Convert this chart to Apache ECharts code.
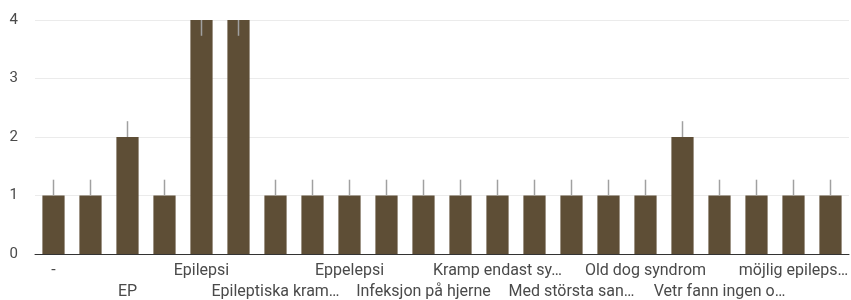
<!DOCTYPE html>
<html>
<head>
<meta charset="utf-8">
<script src="https://cdn.jsdelivr.net/npm/echarts@6/dist/echarts.min.js"></script>
<style>
  html, body { margin: 0; padding: 0; background: #fff; }
  #chart { width: 851px; height: 300px; }
</style>
</head>
<body>
<div id="chart"></div>
<script>
// categories (every other one is shown on the axis, as in the source)
var categories = [
  '-', 'Diagnos saknas', 'EP', 'Epilepsi', 'Epilepsi', 'Epilepsi (idiopatisk)',
  'Epileptiska kram…', 'Epileptiske anfall', 'Eppelepsi', 'Hjernesvulst',
  'Infeksjon på hjerne', 'Kramp', 'Kramp endast sy…', 'Krampanfall',
  'Med största san…', 'Oklart', 'Old dog syndrom', 'Vet ej',
  'Vetr fann ingen o…', 'Vestibulärt syndrom', 'möjlig epileps…', 'okänd'
];
var values  = [1, 1, 2, 1, 4, 4, 1, 1, 1, 1, 1, 1, 1, 1, 1, 1, 1, 2, 1, 1, 1, 1];
var errLow  = [1, 1, 2, 1, 3.73, 3.73, 1, 1, 1, 1, 1, 1, 1, 1, 1, 1, 1, 2, 1, 1, 1, 1];
var errHigh = [1.27, 1.27, 2.27, 1.27, 4, 4, 1.27, 1.27, 1.27, 1.27, 1.27, 1.27, 1.27, 1.27, 1.27, 1.27, 1.27, 2.27, 1.27, 1.27, 1.27, 1.27];
var yTicks = [0, 1, 2, 3, 4];

(function(){
  var c = echarts.init(document.getElementById('chart'));
  var txt = '#4a4a4a';
  var font = 'Roboto, Arial, sans-serif';

  // labels are staggered over two rows: one category axis per row
  function xAxisRow(start, margin, showLine){
    return {
      type: 'category',
      position: 'bottom',
      data: categories,
      axisTick: { show: false },
      axisLine: { show: showLine, lineStyle: { color: '#333', width: 1 } },
      splitLine: { show: false },
      axisLabel: {
        interval: function(i){ return i % 4 === start; },
        margin: margin,
        color: txt,
        fontFamily: font,
        fontSize: 16
      }
    };
  }

  c.setOption({
    animation: false,
    grid: { left: 35, right: 2, top: 20, bottom: 46, containLabel: false, outerBoundsMode: 'none' },
    xAxis: [xAxisRow(0, 9, true), xAxisRow(2, 30, false)],
    yAxis: {
      type: 'value',
      min: yTicks[0],
      max: yTicks[yTicks.length - 1],
      interval: 1,
      axisLine: { show: false },
      axisTick: { show: false },
      axisLabel: { color: txt, fontFamily: font, fontSize: 15, margin: 17 },
      splitLine: { lineStyle: { color: '#ebebeb' } }
    },
    series: [{
      type: 'bar',
      data: values,
      barCategoryGap: '40%',
      itemStyle: { color: '#5e4e36' }
    }, {
      type: 'custom',
      clip: true,
      z: 3,
      data: values.map(function(v, i){ return [i, errLow[i], errHigh[i]]; }),
      renderItem: function(params, api){
        var p1 = api.coord([api.value(0), api.value(1)]);
        var p2 = api.coord([api.value(0), api.value(2)]);
        return {
          type: 'line',
          shape: { x1: p1[0], y1: p1[1], x2: p2[0], y2: p2[1] },
          style: { stroke: '#a0a0a0', lineWidth: 1.5 }
        };
      }
    }]
  });
  window.addEventListener('resize', function(){ c.resize(); });
})();
</script>
</body>
</html>
